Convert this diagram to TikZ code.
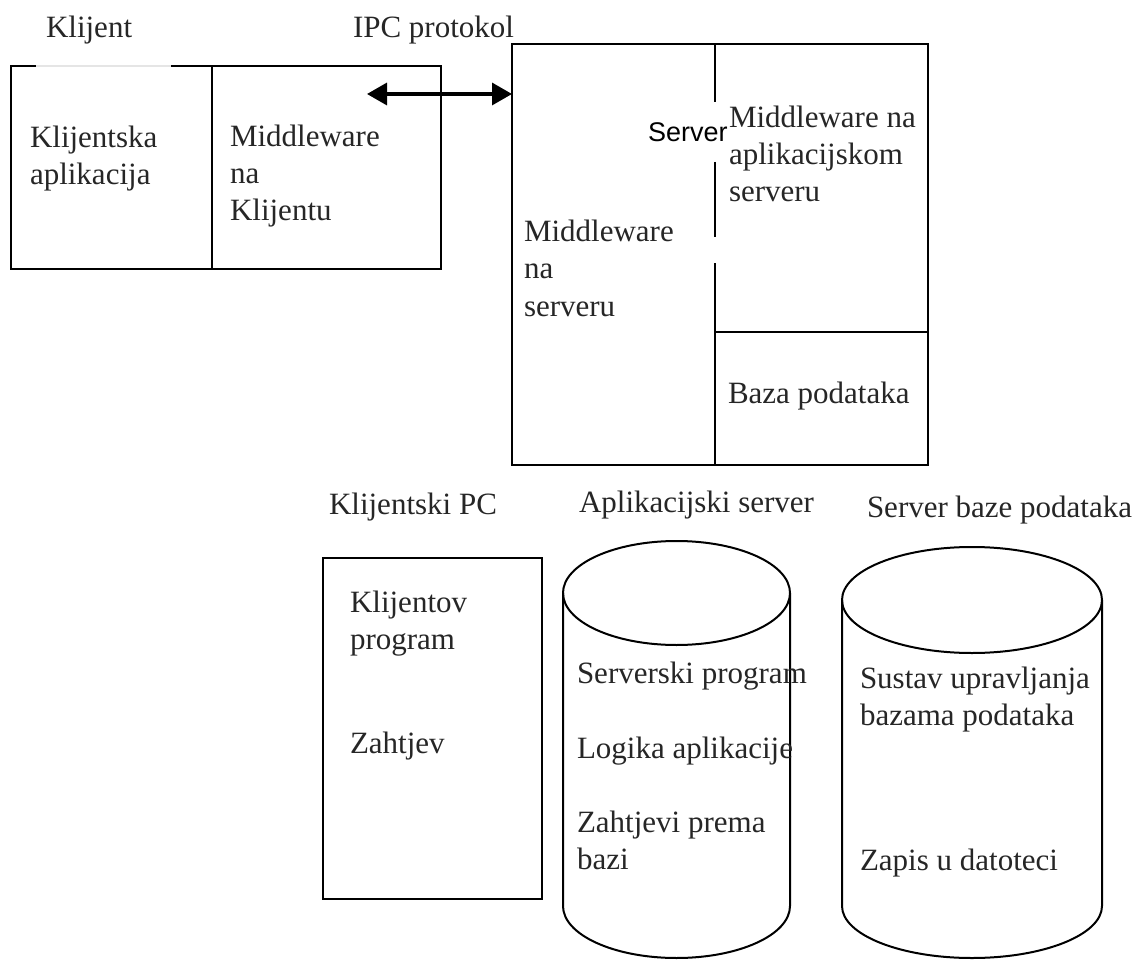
\documentclass[tikz,border=0pt]{standalone}
\usepackage{fontspec}
\setmainfont{Liberation Serif}
\newfontfamily\serversans{Liberation Sans}
\usetikzlibrary{arrows.meta}
\begin{document}
\begin{tikzpicture}[x=1pt,y=-1pt,line width=2pt,
	every node/.style={anchor=base west,inner sep=0pt,align=left,text=black!85,font=\fontsize{31}{37}\selectfont},
	ipcarrow/.style={{Triangle[length=20pt,width=22pt]}-{Triangle[length=20pt,width=22pt]},line width=3.4pt},
	sanslabel/.style={text=black,font=\serversans\fontsize{27}{30}\selectfont}]
	\useasboundingbox (0,0) rectangle (1138,960);
%	klijent (multi-line nodes sit on the baseline of their last line)
	\coordinate (kNW) at (11,66);
	\coordinate (kSE) at (441,269);
	\coordinate (kMt) at (212,66);
	\coordinate (kMb) at (212,269);
	\coordinate (kGa) at (36,66);
	\coordinate (kGb) at (171,66);
	\draw (kNW) rectangle (kSE);
	\draw (kMt) -- (kMb);
	\draw[black!10] (kGa) -- (kGb);
	\node (klijent) at (45,38) {Klijent};
	\node (ipc) at (352,38) {IPC protokol};
	\node (kapp) at (29,185) {Klijentska\\aplikacija};
	\node (kmid) at (229,221) {Middleware\\na\\Klijentu};
%	server
	\coordinate (sNW) at (512,44);
	\coordinate (sSE) at (928,465);
	\coordinate (sM0) at (715,44);
	\coordinate (sM1) at (715,102);
	\coordinate (sM2) at (715,162);
	\coordinate (sM3) at (715,237);
	\coordinate (sM4) at (715,263);
	\coordinate (sM5) at (715,465);
	\coordinate (sHl) at (715,332);
	\coordinate (sHr) at (928,332);
	\draw (sNW) rectangle (sSE);
	\draw (sM0) -- (sM1) (sM2) -- (sM3) (sM4) -- (sM5);
	\draw (sHl) -- (sHr);
	\coordinate (ipcL) at (367,94);
	\draw[ipcarrow] (ipcL) -- (ipcL -| sNW);
	\node[sanslabel] (server) at (647,142) {Server};
	\node (smid) at (523,316) {Middleware\\na\\serveru};
	\node (amid) at (728,202) {Middleware na\\aplikacijskom\\serveru};
	\node (baza) at (727,403) {Baza podataka};
%	klijentski PC
	\coordinate (pNW) at (323,558);
	\coordinate (pSE) at (542,899);
	\draw (pNW) rectangle (pSE);
	\node (pc) at (328,514) {Klijentski PC};
	\node (kprog) at (349,649) {Klijentov\\program};
	\node (zaht) at (349,753) {Zahtjev};
%	aplikacijski server
	\coordinate (c1t) at (676.5,593);
	\draw (c1t) ellipse [x radius=113.5pt,y radius=52pt];
	\draw (c1t) ++(-113.5,0) -- ++(0,313) arc[start angle=180,end angle=360,x radius=113.5pt,y radius=52pt] -- ++(0,-313);
	\node (aserver) at (578,512) {Aplikacijski server};
	\node (sprog) at (576,683) {Serverski program};
	\node (logika) at (576,758) {Logika aplikacije};
	\node (zprema) at (576,869) {Zahtjevi prema\\bazi};
%	server baze podataka
	\coordinate (c2t) at (972,600);
	\draw (c2t) ellipse [x radius=130pt,y radius=53pt];
	\draw (c2t) ++(-130,0) -- ++(0,306) arc[start angle=180,end angle=360,x radius=130pt,y radius=52pt] -- ++(0,-306);
	\node (bserver) at (866,517) {Server baze podataka};
	\node (sustav) at (859,725) {Sustav upravljanja\\bazama podataka};
	\node (zapis) at (859,870) {Zapis u datoteci};
\end{tikzpicture}
\end{document}
